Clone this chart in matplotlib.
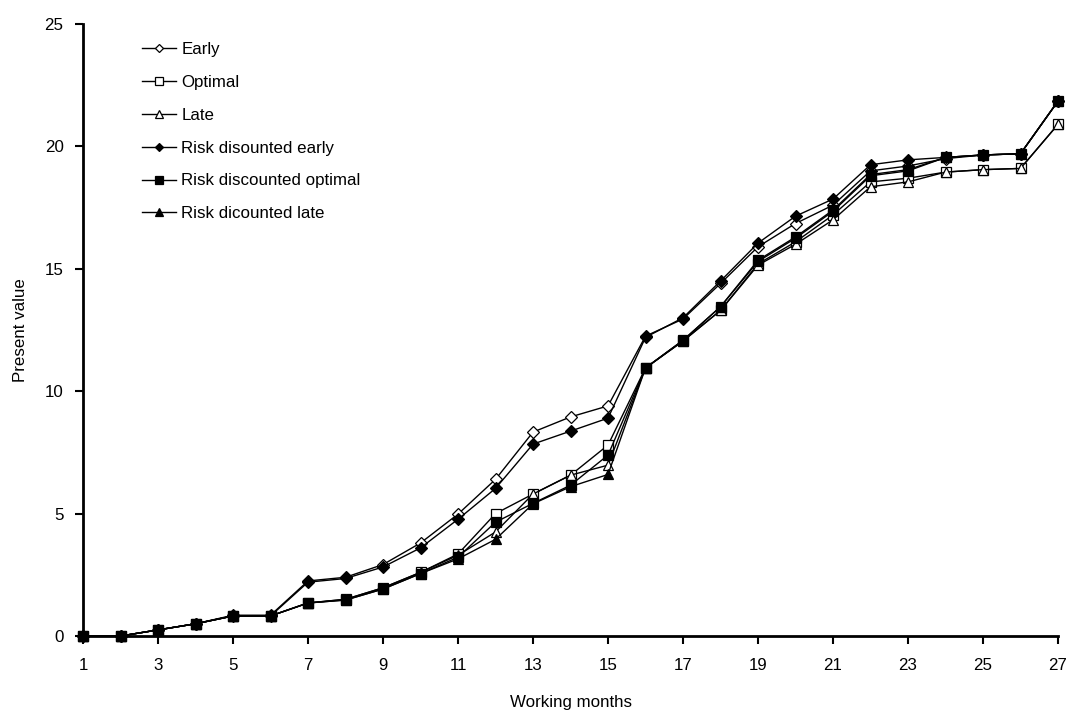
import matplotlib
matplotlib.use('Agg')
import matplotlib.pyplot as plt

# Datos
months = list(range(1, 28))

early = [0, 0, 0.25, 0.5, 0.85, 0.85, 2.25, 2.4, 2.92, 3.8, 4.98, 6.4, 8.33, 8.95, 9.4,
         12.25, 12.95, 14.4, 15.9, 16.85, 17.6, 19.0, 19.2, 19.5, 19.65, 19.7, 21.85]
optimal = [0, 0, 0.25, 0.5, 0.82, 0.82, 1.35, 1.5, 1.97, 2.6, 3.35, 5.0, 5.8, 6.57, 7.8,
           10.95, 12.05, 13.3, 15.2, 16.1, 17.2, 18.55, 18.7, 18.95, 19.05, 19.1, 20.9]
late = [0, 0, 0.25, 0.5, 0.82, 0.82, 1.35, 1.5, 1.97, 2.6, 3.3, 4.25, 5.8, 6.57, 6.98,
        10.95, 12.05, 13.3, 15.15, 16.0, 17.0, 18.35, 18.55, 18.95, 19.05, 19.1, 20.9]
risk_early = [0, 0, 0.25, 0.5, 0.82, 0.82, 2.2, 2.35, 2.82, 3.6, 4.77, 6.03, 7.84, 8.37, 8.9,
              12.2, 13.0, 14.5, 16.05, 17.15, 17.85, 19.25, 19.45, 19.55, 19.65, 19.7, 21.85]
risk_optimal = [0, 0, 0.25, 0.5, 0.82, 0.82, 1.35, 1.47, 1.92, 2.55, 3.22, 4.65, 5.42, 6.16, 7.39,
                10.95, 12.08, 13.45, 15.35, 16.3, 17.4, 18.85, 19.05, 19.55, 19.65, 19.7, 21.85]
risk_late = [0, 0, 0.25, 0.5, 0.82, 0.82, 1.35, 1.47, 1.92, 2.55, 3.15, 3.95, 5.4, 6.1, 6.6,
             10.95, 12.08, 13.45, 15.3, 16.25, 17.35, 18.8, 19.0, 19.55, 19.65, 19.7, 21.85]

series = [
    ('Early', early, 'D', 'white', 6.5),
    ('Optimal', optimal, 's', 'white', 7.5),
    ('Late', late, '^', 'white', 7.5),
    ('Risk disounted early', risk_early, 'D', 'black', 6.5),
    ('Risk discounted optimal', risk_optimal, 's', 'black', 7.5),
    ('Risk dicounted late', risk_late, '^', 'black', 7.5),
]

plt.rcParams['font.family'] = ['Liberation Sans', 'DejaVu Sans']

fig = plt.figure(figsize=(10.7, 7.16), dpi=100)
ax = fig.add_axes([0.0776, 0.1117, 0.9112, 0.8548])

for label, vals, mk, fc, ms in series:
    ax.plot(months, vals, color='black', linewidth=1.0, marker=mk, markersize=ms,
            markerfacecolor=fc, markeredgecolor='black', markeredgewidth=0.9,
            label=label, clip_on=False, zorder=3)

ax.set_xlim(1, 27)
ax.set_ylim(0, 25)
ax.set_xticks(range(1, 28, 2))
ax.set_yticks(range(0, 26, 5))
ax.tick_params(axis='both', direction='out', length=6, width=1.5, labelsize=12.2)
ax.tick_params(axis='x', pad=10)
ax.tick_params(axis='y', pad=8)

for side in ['top', 'right']:
    ax.spines[side].set_visible(False)
for side in ['left', 'bottom']:
    ax.spines[side].set_linewidth(2)

ax.set_xlabel('Working months', fontsize=12.2, labelpad=16)
ax.set_ylabel('Present value', fontsize=12.2, labelpad=12)

leg = ax.legend(loc='upper left', bbox_to_anchor=(0.045, 0.995), frameon=False,
                fontsize=12.2, handlelength=2.0, handletextpad=0.3, labelspacing=1.05,
                markerscale=0.7)

fig.savefig('out.png', dpi=100)
